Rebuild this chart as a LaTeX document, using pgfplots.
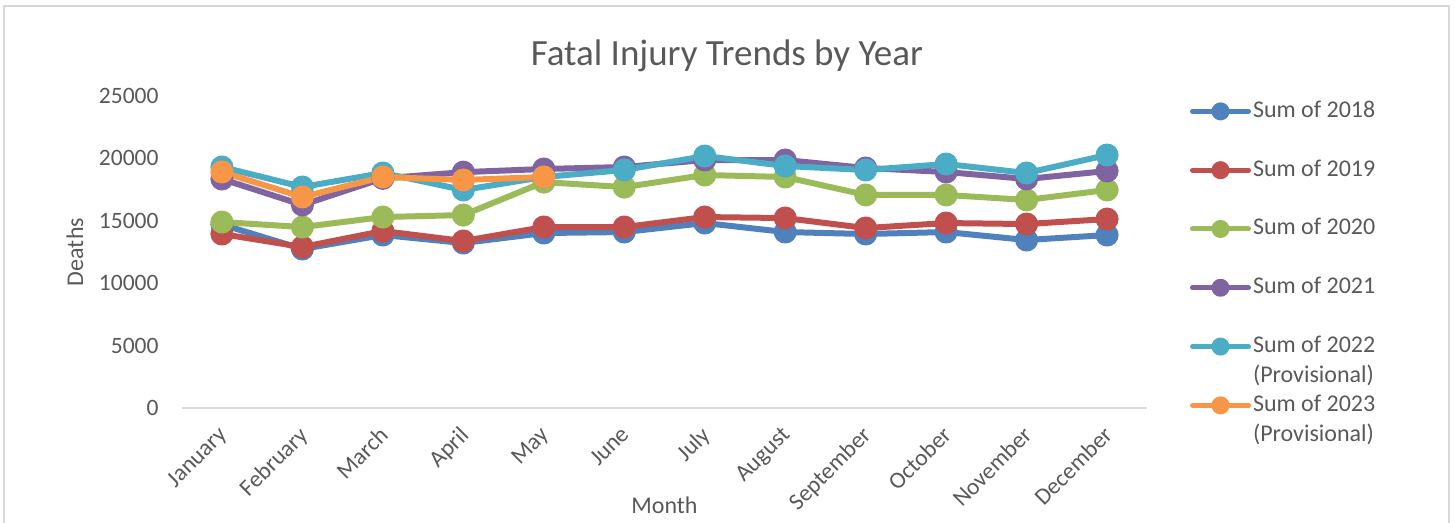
\documentclass[border=0pt]{standalone}
\usepackage{pgfplots}
\pgfplotsset{compat=1.18}
\usepackage{fontspec}
\setmainfont{Carlito}
\definecolor{txt}{HTML}{595959}
\definecolor{axgray}{HTML}{D9D9D9}
\definecolor{c18}{HTML}{4F81BD}
\definecolor{c19}{HTML}{C0504D}
\definecolor{c20}{HTML}{9BBB59}
\definecolor{c21}{HTML}{8064A2}
\definecolor{c22}{HTML}{4BACC6}
\definecolor{c23}{HTML}{F79646}
\begin{document}
\begin{tikzpicture}[x=1pt,y=1pt]
\useasboundingbox (0,0) rectangle (1455,522);
\draw[axgray, line width=1.3pt] (4,-5) -- (4,516) -- (1449,516) -- (1449,-5);
\begin{axis}[
  at={(181.7pt,114pt)}, anchor=south west,
  scale only axis, width=965.6pt, height=312pt,
  xmin=0.5, xmax=12.5, ymin=0, ymax=25000,
  axis x line*=bottom, axis y line*=left,
  x axis line style={axgray, line width=1.3pt, -},
  y axis line style={draw=none},
  xtick={1,...,12},
  xticklabels={January,February,March,April,May,June,July,August,September,October,November,December},
  minor xtick={0.5,1.5,...,12.5},
  major tick length=0pt, minor tick length=7pt, tick align=outside,
  xtick style={draw=none}, minor x tick style={axgray, line width=1.3pt},
  ytick={0,5000,...,25000}, ytick style={draw=none},
  scaled y ticks=false,
  /pgf/number format/assume math mode=true,
  /pgf/number format/set thousands separator={},
  tick label style={font=\fontsize{23.5}{28}\selectfont, text=txt},
  yticklabel style={anchor=east, inner sep=0pt, xshift=-23pt},
  xticklabel style={xshift=-5pt, yshift=-17pt, rotate=45, anchor=north east, inner sep=0pt},
  xlabel={Month}, ylabel={Deaths},
  label style={font=\fontsize{24}{28}\selectfont, text=txt},
  xlabel style={at={(axis description cs:0.5,-0.311)}, anchor=center},
  ylabel style={at={(axis description cs:-0.1105,0.5)}, anchor=center},
  title={Fatal Injury Trends by Year},
  title style={font=\fontsize{37}{44}\selectfont, text=txt, at={(axis description cs:0.5647,1.077)}, anchor=base},
  every axis plot/.append style={line width=6pt, line cap=round, line join=round, mark=*, mark size=8.5pt},
  legend style={at={(axis description cs:1.044,0.993)}, anchor=north west, draw=none, fill=none,
    inner sep=0pt, row sep=32.8pt, font=\fontsize{24}{28}\selectfont, text=txt,
    nodes={text height=17pt, text depth=5pt, inner sep=2pt}},
  legend cell align=left,
  legend image code/.code={\draw[#1, line width=5pt, mark size=6.5pt, mark repeat=2, mark phase=2] plot coordinates {(0pt,0pt) (28pt,0pt) (56pt,0pt)};},
]
\addplot[c18, mark options={fill=c18}] coordinates {(1,14700) (2,12740) (3,13860) (4,13220) (5,14020) (6,14100) (7,14820) (8,14100) (9,13940) (10,14100) (11,13460) (12,13860)};
\addlegendentry{Sum of 2018}
\addplot[c19, mark options={fill=c19}] coordinates {(1,13940) (2,12900) (3,14180) (4,13380) (5,14500) (6,14500) (7,15300) (8,15220) (9,14420) (10,14820) (11,14740) (12,15140)};
\addlegendentry{Sum of 2019}
\addplot[c20, mark options={fill=c20}] coordinates {(1,14900) (2,14500) (3,15300) (4,15460) (5,18100) (6,17700) (7,18670) (8,18510) (9,17070) (10,17070) (11,16670) (12,17470)};
\addlegendentry{Sum of 2020}
\addplot[c21, mark options={fill=c21}] coordinates {(1,18350) (2,16270) (3,18400) (4,18900) (5,19150) (6,19310) (7,19870) (8,19870) (9,19230) (10,18910) (11,18350) (12,18990)};
\addlegendentry{Sum of 2021}
\addplot[c22, mark options={fill=c22}] coordinates {(1,19310) (2,17710) (3,18830) (4,17470) (5,18510) (6,19070) (7,20190) (8,19390) (9,19070) (10,19550) (11,18830) (12,20270)};
\addlegendentry{\begin{tabular}[t]{@{}l@{}}Sum of 2022\\[2pt](Provisional)\end{tabular}}
\addplot[c23, mark options={fill=c23}] coordinates {(1,18910) (2,16910) (3,18510) (4,18270) (5,18510)};
\addlegendentry{\begin{tabular}[t]{@{}l@{}}Sum of 2023\\[2pt](Provisional)\end{tabular}}
\end{axis}
\end{tikzpicture}
\end{document}
